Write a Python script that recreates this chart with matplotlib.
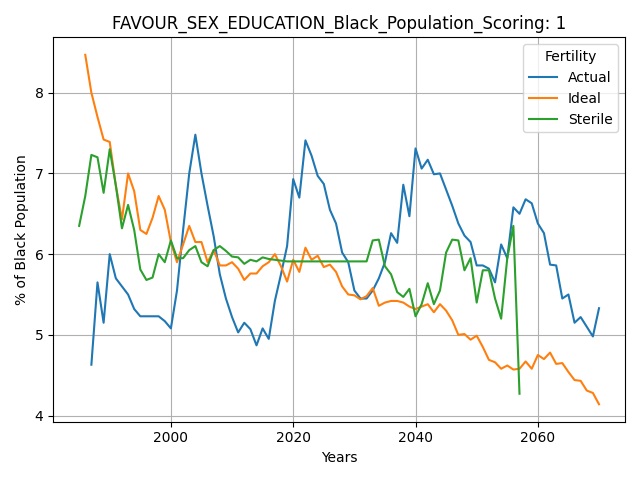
import numpy as np
import matplotlib.pyplot as plt

actual_years = list(range(1987, 2071))
actual = [4.63, 5.65, 5.15, 6.0, 5.7, 5.6, 5.5, 5.32, 5.23, 5.23, 5.23, 5.23, 5.17, 5.08,
          5.55, 6.3, 7.0, 7.48, 7.0, 6.6, 6.22, 5.75, 5.45, 5.22, 5.03, 5.15, 5.07, 4.87,
          5.08, 4.95, 5.42, 5.75, 6.1, 6.93, 6.7, 7.41, 7.22, 6.97, 6.87, 6.55, 6.38, 6.02,
          5.9, 5.55, 5.45, 5.45, 5.55, 5.7, 5.9, 6.26, 6.14, 6.86, 6.47, 7.31, 7.06, 7.17,
          6.99, 7.0, 6.8, 6.6, 6.38, 6.23, 6.15, 5.86, 5.86, 5.82, 5.65, 6.12, 5.95, 6.58,
          6.5, 6.68, 6.63, 6.38, 6.26, 5.87, 5.86, 5.45, 5.5, 5.15, 5.22, 5.1, 4.98, 5.33]

ideal_years = list(range(1986, 2071))
ideal = [8.47, 8.0, 7.7, 7.42, 7.39, 6.85, 6.43, 7.0, 6.78, 6.3, 6.25, 6.45, 6.72, 6.55,
         6.15, 5.9, 6.12, 6.35, 6.15, 6.15, 5.9, 6.05, 5.86, 5.86, 5.9, 5.82, 5.68, 5.76,
         5.76, 5.85, 5.9, 6.0, 5.85, 5.66, 5.93, 5.78, 6.08, 5.93, 5.98, 5.84, 5.87, 5.78,
         5.6, 5.5, 5.49, 5.44, 5.48, 5.58, 5.36, 5.4, 5.42, 5.42, 5.4, 5.35, 5.32, 5.35,
         5.38, 5.28, 5.38, 5.3, 5.18, 5.0, 5.01, 4.94, 4.99, 4.85, 4.69, 4.66, 4.58, 4.62,
         4.57, 4.58, 4.67, 4.58, 4.75, 4.7, 4.78, 4.64, 4.65, 4.54, 4.44, 4.43, 4.31, 4.28,
         4.14]

sterile_years = list(range(1985, 2058))
sterile = [6.35, 6.72, 7.23, 7.2, 6.76, 7.3, 6.85, 6.32, 6.61, 6.3, 5.81, 5.68, 5.71, 6.0,
           5.9, 6.17, 5.95, 5.95, 6.05, 6.1, 5.9, 5.85, 6.05, 6.1, 6.04, 5.97, 5.96, 5.88,
           5.93, 5.91, 5.96, 5.94, 5.93, 5.92, 5.91, 5.91, 5.91, 5.91, 5.91, 5.91, 5.91,
           5.91, 5.91, 5.91, 5.91, 5.91, 5.91, 5.91, 6.17, 6.18, 5.85, 5.75, 5.53, 5.47,
           5.57, 5.23, 5.38, 5.64, 5.38, 5.55, 6.02, 6.18, 6.17, 5.8, 5.95, 5.4, 5.8, 5.8,
           5.45, 5.2, 5.95, 6.35, 4.27]

fig, ax = plt.subplots(figsize=(6.4, 4.8), dpi=100)
ax.plot(actual_years, actual, label='Actual')
ax.plot(ideal_years, ideal, label='Ideal')
ax.plot(sterile_years, sterile, label='Sterile')
ax.grid(True)
ax.set_xlabel('Years')
ax.set_ylabel('% of Black Population')
ax.set_title('FAVOUR_SEX_EDUCATION_Black_Population_Scoring: 1')
ax.legend(title='Fertility', loc='upper right')
fig.tight_layout()
fig.savefig('out.png')
